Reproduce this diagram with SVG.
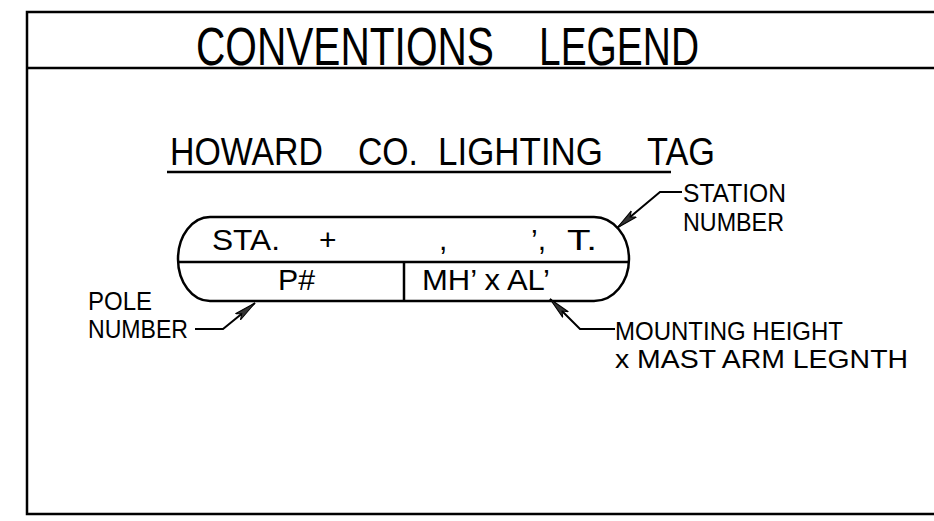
<svg xmlns="http://www.w3.org/2000/svg" width="934" height="521" viewBox="0 0 934 521">
<defs>
<style>
.t{font-family:"Liberation Sans",Arial,sans-serif;fill:#000;}
.ln{fill:none;stroke:#000;stroke-width:2.5;}
.ld{fill:none;stroke:#000;stroke-width:2;}
</style>
<marker id="arr" markerUnits="userSpaceOnUse" markerWidth="24" markerHeight="12" refX="22" refY="5" orient="auto">
<path d="M0,1 L22,5 L0,9 L5,5 Z" fill="#333" stroke="#000" stroke-width="1"/>
</marker>
</defs>
<rect x="0" y="0" width="934" height="521" fill="#fff"/>
<g id="frame">
<path d="M940,12 H27 V514 H940" class="ln" stroke-width="3"/>
<line x1="27" y1="68" x2="940" y2="68" class="ln" stroke-width="3"/>
</g>
<g id="title">
<text class="t" font-size="54" transform="scale(0.75,1)"><tspan x="261.3" y="65" textLength="397.3" lengthAdjust="spacingAndGlyphs">CONVENTIONS</tspan><tspan x="718.7" y="65" textLength="213.3" lengthAdjust="spacingAndGlyphs">LEGEND</tspan></text>
</g>
<g id="subtitle">
<text class="t" font-size="39"><tspan x="170" y="165" textLength="153" lengthAdjust="spacingAndGlyphs">HOWARD</tspan><tspan x="358" y="165" textLength="60" lengthAdjust="spacingAndGlyphs">CO.</tspan><tspan x="438" y="165" textLength="165" lengthAdjust="spacingAndGlyphs">LIGHTING</tspan><tspan x="647" y="165" textLength="68" lengthAdjust="spacingAndGlyphs">TAG</tspan></text>
<line x1="167" y1="172" x2="671" y2="172" class="ln"/>
</g>
<g id="tag">
<path d="M210,217 H594 A35,42 0 0 1 594,301 H210 A32,42 0 0 1 210,217 Z" class="ln"/>
<line x1="178" y1="262" x2="629" y2="262" class="ln"/>
<line x1="404" y1="262" x2="404" y2="301" class="ln"/>
<text class="t" font-size="30"><tspan x="212" y="250" textLength="68" lengthAdjust="spacingAndGlyphs">STA.</tspan><tspan x="319" y="250">+</tspan><tspan x="439" y="250">,</tspan><tspan x="531" y="250">’,</tspan><tspan x="567" y="250" textLength="30" lengthAdjust="spacingAndGlyphs">T.</tspan></text>
<text class="t" font-size="30"><tspan x="278" y="290" textLength="37" lengthAdjust="spacingAndGlyphs">P#</tspan><tspan x="422" y="290" textLength="128" lengthAdjust="spacingAndGlyphs">MH’ x AL’</tspan></text>
</g>
<g id="station-label">
<text class="t" font-size="26"><tspan x="683" y="202" textLength="103" lengthAdjust="spacingAndGlyphs">STATION</tspan><tspan x="683" y="231" textLength="101" lengthAdjust="spacingAndGlyphs">NUMBER</tspan></text>
</g>
<g id="pole-label">
<text class="t" font-size="26"><tspan x="88" y="310" textLength="64" lengthAdjust="spacingAndGlyphs">POLE</tspan><tspan x="88" y="338" textLength="100" lengthAdjust="spacingAndGlyphs">NUMBER</tspan></text>
</g>
<g id="mounting-label">
<text class="t" font-size="26"><tspan x="615" y="340" textLength="228" lengthAdjust="spacingAndGlyphs">MOUNTING HEIGHT</tspan><tspan x="615" y="368" textLength="293" lengthAdjust="spacingAndGlyphs">x MAST ARM LEGNTH</tspan></text>
</g>
<g id="connectors">
<polyline points="682,192 660,192 617,228" class="ld" marker-end="url(#arr)"/>
<polyline points="195,329 223,329 255,303" class="ld" marker-end="url(#arr)"/>
<polyline points="615,329 580,329 550,299" class="ld" marker-end="url(#arr)"/>
</g>
</svg>
